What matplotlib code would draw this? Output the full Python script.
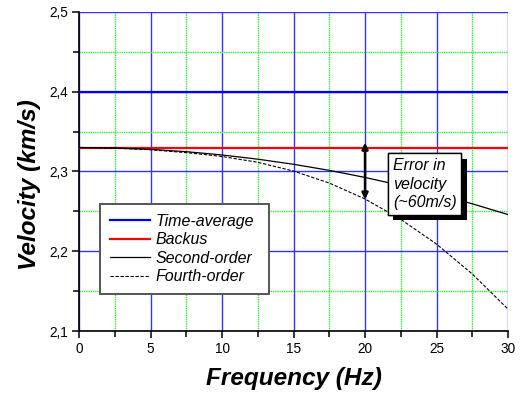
import matplotlib
matplotlib.use("Agg")
import matplotlib.pyplot as plt
from matplotlib.ticker import MultipleLocator, FuncFormatter
import matplotlib.patheffects as pe

# data
freq = [0, 2.5, 5, 7.5, 10, 12.5, 15, 17.5, 20, 22.5, 25, 27.5, 30]
time_average = [2.40] * len(freq)
backus = [2.33] * len(freq)
second_order = [2.330, 2.3294, 2.3277, 2.3248, 2.3207, 2.3154, 2.3090,
                2.3014, 2.2925, 2.2825, 2.2715, 2.2595, 2.2460]
fourth_order = [2.330, 2.3293, 2.3272, 2.3236, 2.3188, 2.3115, 2.3005,
                2.2855, 2.2655, 2.2400, 2.2090, 2.1715, 2.1275]

error_freq = 20
error_top = 2.336
error_bottom = 2.265

plt.rcParams["font.family"] = ["Liberation Sans", "DejaVu Sans"]

fig = plt.figure(figsize=(5.2, 3.96), dpi=100)
ax = fig.add_axes([0.152, 0.164, 0.825, 0.806])

ax.plot(freq, time_average, color="#0000ff", lw=1.6, label="Time-average", zorder=3)
ax.plot(freq, backus, color="#ff0000", lw=1.6, label="Backus", zorder=3)
ax.plot(freq, second_order, color="black", lw=0.9, label="Second-order", zorder=3)
ax.plot(freq, fourth_order, color="black", lw=0.8, ls=(0, (3, 1.5)),
        label="Fourth-order", zorder=3)

ax.set_xlim(0, 30)
ax.set_ylim(2.1, 2.5)
ax.xaxis.set_major_locator(MultipleLocator(5))
ax.xaxis.set_minor_locator(MultipleLocator(2.5))
ax.yaxis.set_major_locator(MultipleLocator(0.1))
ax.yaxis.set_minor_locator(MultipleLocator(0.05))
ax.yaxis.set_major_formatter(FuncFormatter(lambda v, p: f"{v:.1f}".replace(".", ",")))

ax.grid(which="major", color="#3333ff", lw=1.0)
ax.grid(which="minor", color="#33ee33", lw=1.0, ls=(0, (1, 0.6)))
ax.set_axisbelow(True)
ax.xaxis.get_major_ticks()[-1].gridline.set_visible(False)
ax.yaxis.get_major_ticks()[-1].gridline.set_visible(False)

for s in ["top", "right"]:
    ax.spines[s].set_visible(False)
for s in ["left", "bottom"]:
    ax.spines[s].set_linewidth(1.2)
ax.tick_params(which="both", direction="out", width=1.1, labelsize=9.8, pad=3)
ax.tick_params(which="major", length=5)
ax.tick_params(which="minor", length=4)

ax.set_xlabel("Frequency (Hz)", fontsize=17.6, fontweight="bold", style="italic", labelpad=8)
ax.set_ylabel("Velocity (km/s)", fontsize=17.6, fontweight="bold", style="italic")
ax.yaxis.set_label_coords(-0.089, 0.458)

leg = ax.legend(loc="lower left", bbox_to_anchor=(0.049, 0.116, 0.394, 0.295),
                mode="expand", borderaxespad=0, fancybox=False, framealpha=1,
                edgecolor="#555555", prop={"style": "italic", "size": 11.5},
                handlelength=2.5, handletextpad=0.4, labelspacing=0.22,
                borderpad=0.6)
leg.get_frame().set_linewidth(1.4)
leg.set_zorder(5)

# error arrow
ax.annotate("", xy=(error_freq, error_bottom), xytext=(error_freq, error_top),
            arrowprops=dict(arrowstyle="<|-|>", color="black", lw=1.8,
                            mutation_scale=9, shrinkA=0, shrinkB=0), zorder=6)

txt = ax.text(21.95, 2.284, "Error in\nvelocity\n(~60m/s)", fontsize=11.5, style="italic",
              ha="left", va="center", linespacing=1.3, zorder=6,
              bbox=dict(boxstyle="square,pad=0.3", fc="white", ec="black", lw=1.0))
txt.get_bbox_patch().set_path_effects(
    [pe.withSimplePatchShadow(offset=(3.8, -3.8), shadow_rgbFace="black", alpha=1), pe.Normal()])

fig.savefig("out.png", dpi=100)
